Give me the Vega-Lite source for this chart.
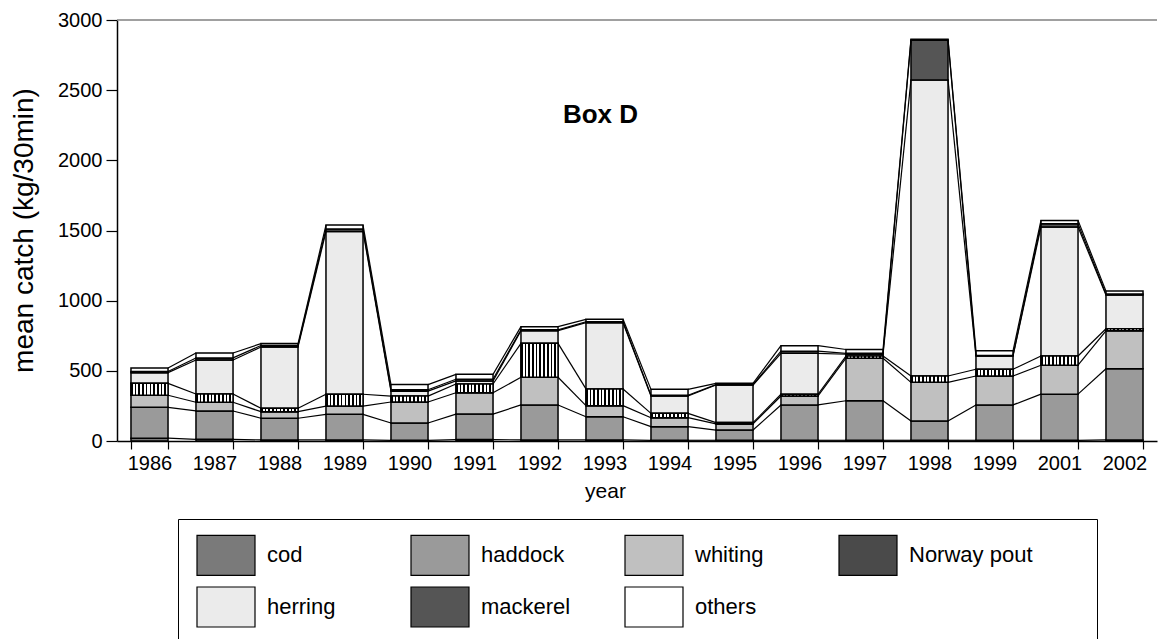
{
  "$schema": "https://vega.github.io/schema/vega-lite/v6.json",
  "width": 1040,
  "height": 421,
  "autosize": "none",
  "padding": {"left": 117, "top": 20, "right": 3, "bottom": 198},
  "background": "white",
  "config": {
    "view": {"stroke": null},
    "font": "Liberation Sans",
    "axis": {
      "domainColor": "black", "domainWidth": 1.5, "tickColor": "black", "tickWidth": 1.2,
      "labelColor": "black", "labelFontSize": 20, "labelFont": "Liberation Sans",
      "titleColor": "black", "titleFontWeight": "normal", "titleFont": "Liberation Sans",
      "grid": false
    }
  },
  "data": {"values": [
    {"year":"1986","species":"cod","catch":20},{"year":"1986","species":"haddock","catch":220},{"year":"1986","species":"whiting","catch":86},{"year":"1986","species":"Norway pout","catch":85},{"year":"1986","species":"herring","catch":76},{"year":"1986","species":"mackerel","catch":8},{"year":"1986","species":"others","catch":25},
    {"year":"1987","species":"cod","catch":12},{"year":"1987","species":"haddock","catch":202},{"year":"1987","species":"whiting","catch":62},{"year":"1987","species":"Norway pout","catch":59},{"year":"1987","species":"herring","catch":242},{"year":"1987","species":"mackerel","catch":15},{"year":"1987","species":"others","catch":35},
    {"year":"1988","species":"cod","catch":8},{"year":"1988","species":"haddock","catch":154},{"year":"1988","species":"whiting","catch":47},{"year":"1988","species":"Norway pout","catch":24},{"year":"1988","species":"herring","catch":437},{"year":"1988","species":"mackerel","catch":10},{"year":"1988","species":"others","catch":14},
    {"year":"1989","species":"cod","catch":8},{"year":"1989","species":"haddock","catch":182},{"year":"1989","species":"whiting","catch":59},{"year":"1989","species":"Norway pout","catch":84},{"year":"1989","species":"herring","catch":1159},{"year":"1989","species":"mackerel","catch":18},{"year":"1989","species":"others","catch":29},
    {"year":"1990","species":"cod","catch":5},{"year":"1990","species":"haddock","catch":123},{"year":"1990","species":"whiting","catch":150},{"year":"1990","species":"Norway pout","catch":42},{"year":"1990","species":"herring","catch":35},{"year":"1990","species":"mackerel","catch":10},{"year":"1990","species":"others","catch":37},
    {"year":"1991","species":"cod","catch":10},{"year":"1991","species":"haddock","catch":182},{"year":"1991","species":"whiting","catch":152},{"year":"1991","species":"Norway pout","catch":62},{"year":"1991","species":"herring","catch":22},{"year":"1991","species":"mackerel","catch":12},{"year":"1991","species":"others","catch":35},
    {"year":"1992","species":"cod","catch":8},{"year":"1992","species":"haddock","catch":249},{"year":"1992","species":"whiting","catch":197},{"year":"1992","species":"Norway pout","catch":242},{"year":"1992","species":"herring","catch":90},{"year":"1992","species":"mackerel","catch":6},{"year":"1992","species":"others","catch":23},
    {"year":"1993","species":"cod","catch":8},{"year":"1993","species":"haddock","catch":165},{"year":"1993","species":"whiting","catch":79},{"year":"1993","species":"Norway pout","catch":119},{"year":"1993","species":"herring","catch":472},{"year":"1993","species":"mackerel","catch":7},{"year":"1993","species":"others","catch":17},
    {"year":"1994","species":"cod","catch":5},{"year":"1994","species":"haddock","catch":97},{"year":"1994","species":"whiting","catch":64},{"year":"1994","species":"Norway pout","catch":31},{"year":"1994","species":"herring","catch":124},{"year":"1994","species":"mackerel","catch":5},{"year":"1994","species":"others","catch":42},
    {"year":"1995","species":"cod","catch":5},{"year":"1995","species":"haddock","catch":73},{"year":"1995","species":"whiting","catch":44},{"year":"1995","species":"Norway pout","catch":9},{"year":"1995","species":"herring","catch":268},{"year":"1995","species":"mackerel","catch":3},{"year":"1995","species":"others","catch":9},
    {"year":"1996","species":"cod","catch":5},{"year":"1996","species":"haddock","catch":252},{"year":"1996","species":"whiting","catch":64},{"year":"1996","species":"Norway pout","catch":12},{"year":"1996","species":"herring","catch":292},{"year":"1996","species":"mackerel","catch":15},{"year":"1996","species":"others","catch":39},
    {"year":"1997","species":"cod","catch":5},{"year":"1997","species":"haddock","catch":282},{"year":"1997","species":"whiting","catch":303},{"year":"1997","species":"Norway pout","catch":15},{"year":"1997","species":"herring","catch":13},{"year":"1997","species":"mackerel","catch":7},{"year":"1997","species":"others","catch":27},
    {"year":"1998","species":"cod","catch":5},{"year":"1998","species":"haddock","catch":138},{"year":"1998","species":"whiting","catch":275},{"year":"1998","species":"Norway pout","catch":45},{"year":"1998","species":"herring","catch":2110},{"year":"1998","species":"mackerel","catch":282},{"year":"1998","species":"others","catch":7},
    {"year":"1999","species":"cod","catch":5},{"year":"1999","species":"haddock","catch":252},{"year":"1999","species":"whiting","catch":206},{"year":"1999","species":"Norway pout","catch":48},{"year":"1999","species":"herring","catch":95},{"year":"1999","species":"mackerel","catch":4},{"year":"1999","species":"others","catch":33},
    {"year":"2001","species":"cod","catch":5},{"year":"2001","species":"haddock","catch":329},{"year":"2001","species":"whiting","catch":206},{"year":"2001","species":"Norway pout","catch":66},{"year":"2001","species":"herring","catch":919},{"year":"2001","species":"mackerel","catch":23},{"year":"2001","species":"others","catch":24},
    {"year":"2002","species":"cod","catch":8},{"year":"2002","species":"haddock","catch":507},{"year":"2002","species":"whiting","catch":270},{"year":"2002","species":"Norway pout","catch":15},{"year":"2002","species":"herring","catch":240},{"year":"2002","species":"mackerel","catch":8},{"year":"2002","species":"others","catch":20}
  ]},
  "transform": [
    {"calculate": "indexof(['cod','haddock','whiting','Norway pout','herring','mackerel','others'], datum.species)", "as": "k"},
    {"stack": "catch", "groupby": ["year"], "sort": [{"field": "k", "order": "ascending"}], "as": ["lo", "hi"]},
    {"window": [{"op": "lead", "field": "hi", "as": "nhi"}, {"op": "lead", "field": "year", "as": "nyear"}], "groupby": ["species"], "sort": [{"field": "year", "order": "ascending"}]}
  ],
  "layer": [
    {
      "mark": {"type": "bar", "stroke": "black", "strokeWidth": 1.5},
      "encoding": {
        "x": {"field": "year", "type": "nominal", "scale": {"paddingInner": 0.43, "paddingOuter": 0.215},
              "axis": {"title": "year", "labelAngle": 0, "tickBand": "extent", "tickSize": 8, "labelPadding": 4,
                       "titleFontSize": 21, "titleX": 488, "titleY": 39, "titleBaseline": "top", "titleAlign": "center"}},
        "y": {"field": "lo", "type": "quantitative", "scale": {"domain": [0, 3000], "nice": false},
              "axis": {"title": "mean catch (kg/30min)", "values": [0,250,500,750,1000,1250,1500,1750,2000,2250,2500,2750,3000],
                       "labelExpr": "datum.value % 500 === 0 ? datum.label : ''", "format": "d", "tickSize": 11, "labelPadding": 4,
                       "titleFontSize": 28, "titleX": -93, "titleY": 210, "titleBaseline": "middle", "titleAlign": "center",
                       "encode": {"ticks": {"update": {"x": {"value": 3}, "x2": {"signal": "datum.value % 500 === 0 ? -11 : -3"}}}}}},
        "y2": {"field": "hi"},
        "color": {"field": "species", "type": "nominal",
                  "scale": {"domain": ["cod","haddock","whiting","Norway pout","herring","mackerel","others"],
                            "range": ["#7a7a7a","#9a9a9a","#c0c0c0","#4a4a4a","#ebebeb","#555555","#ffffff"]},
                  "legend": {"title": "\u00a0", "titleOrient": "right", "titlePadding": 49, "titleFontSize": 10,
                             "orient": "none", "legendX": 61, "legendY": 499, "direction": "horizontal",
                             "columns": 4, "gridAlign": "all", "symbolType": "M-1.45,-1H1.45V1H-1.45Z", "symbolSize": 1600,
                             "symbolOffset": 12,
                             "symbolStrokeColor": "black", "symbolStrokeWidth": 1.2, "symbolOpacity": 1,
                             "labelFontSize": 22, "labelFont": "Liberation Sans", "labelColor": "black", "labelOffset": 20,
                             "labelLimit": 400, "columnPadding": 16, "rowPadding": 6, "padding": 15,
                             "strokeColor": "black", "fillColor": "white"}}
      }
    },
    {
      "transform": [{"filter": "datum.species === 'Norway pout'"}],
      "mark": {"type": "bar", "stroke": "black", "strokeWidth": 1.5,
               "fill": {"gradient": "linear", "x1": 0, "y1": 0, "x2": 1, "y2": 0, "stops": [
                 {"offset": 0, "color": "black"}, {"offset": 0.045, "color": "black"}, {"offset": 0.045, "color": "white"}, {"offset": 0.1, "color": "white"},
                 {"offset": 0.1, "color": "black"}, {"offset": 0.145, "color": "black"}, {"offset": 0.145, "color": "white"}, {"offset": 0.2, "color": "white"},
                 {"offset": 0.2, "color": "black"}, {"offset": 0.245, "color": "black"}, {"offset": 0.245, "color": "white"}, {"offset": 0.3, "color": "white"},
                 {"offset": 0.3, "color": "black"}, {"offset": 0.345, "color": "black"}, {"offset": 0.345, "color": "white"}, {"offset": 0.4, "color": "white"},
                 {"offset": 0.4, "color": "black"}, {"offset": 0.445, "color": "black"}, {"offset": 0.445, "color": "white"}, {"offset": 0.5, "color": "white"},
                 {"offset": 0.5, "color": "black"}, {"offset": 0.545, "color": "black"}, {"offset": 0.545, "color": "white"}, {"offset": 0.6, "color": "white"},
                 {"offset": 0.6, "color": "black"}, {"offset": 0.645, "color": "black"}, {"offset": 0.645, "color": "white"}, {"offset": 0.7, "color": "white"},
                 {"offset": 0.7, "color": "black"}, {"offset": 0.745, "color": "black"}, {"offset": 0.745, "color": "white"}, {"offset": 0.8, "color": "white"},
                 {"offset": 0.8, "color": "black"}, {"offset": 0.845, "color": "black"}, {"offset": 0.845, "color": "white"}, {"offset": 0.9, "color": "white"},
                 {"offset": 0.9, "color": "black"}, {"offset": 0.945, "color": "black"}, {"offset": 0.945, "color": "white"}, {"offset": 1, "color": "white"}
               ]}},
      "encoding": {
        "x": {"field": "year", "type": "nominal"},
        "y": {"field": "lo", "type": "quantitative"},
        "y2": {"field": "hi"}
      }
    },
    {
      "transform": [{"filter": "datum.nyear != null"}],
      "mark": {"type": "rule", "color": "black", "strokeWidth": 1.2},
      "encoding": {
        "x": {"field": "year", "type": "nominal", "bandPosition": 1},
        "x2": {"field": "nyear", "bandPosition": 0},
        "y": {"field": "hi", "type": "quantitative"},
        "y2": {"field": "nhi"}
      }
    },
    {
      "data": {"values": [{}]},
      "mark": {"type": "rule", "color": "#808080", "strokeWidth": 1.5},
      "encoding": {"y": {"datum": 3000}}
    },
    {
      "data": {"values": [{}]},
      "mark": {"type": "text", "fontWeight": "bold", "fontSize": 26, "font": "Liberation Sans", "color": "black", "baseline": "middle", "align": "center", "dx": -4},
      "encoding": {"x": {"datum": "1993"}, "y": {"datum": 2320}, "text": {"value": "Box D"}}
    }
  ]
}
